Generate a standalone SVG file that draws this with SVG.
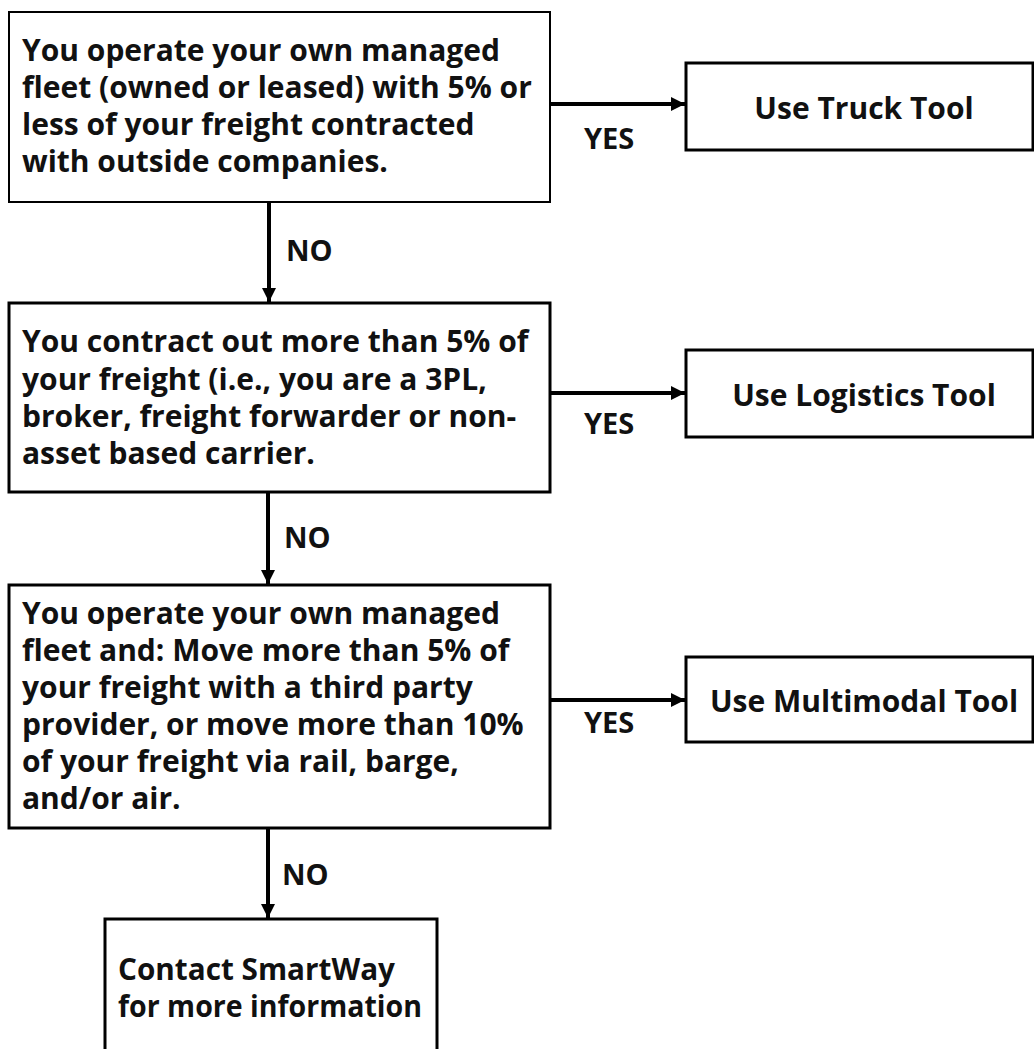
<svg xmlns="http://www.w3.org/2000/svg" width="1034" height="1049" viewBox="0 0 1034 1049">
  <style>
    .box { fill: #ffffff; stroke: #000000; stroke-width: 3; }
    .thin { stroke-width: 2; }
    .t { font-family: "Open Sans", "Liberation Sans", sans-serif; font-weight: 700; font-size: 30px; fill: #111111; }
    .c { text-anchor: middle; }
    .lbl { font-family: "Open Sans", "Liberation Sans", sans-serif; font-weight: 700; font-size: 29px; fill: #111111; }
    .conn { stroke: #000000; stroke-width: 4; fill: none; }
  </style>
  <defs>
    <marker id="arrow" viewBox="0 0 10 10" refX="10" refY="5" markerWidth="3.6" markerHeight="3.6" orient="auto" markerUnits="strokeWidth">
      <path d="M0,0 L10,5 L0,10 z" fill="#000000"/>
    </marker>
  </defs>
  <rect width="1034" height="1049" fill="#ffffff"/>

  <g id="connectors">
    <line class="conn" x1="551" y1="104" x2="685" y2="104" marker-end="url(#arrow)"/>
    <line class="conn" x1="269" y1="202" x2="269" y2="302" marker-end="url(#arrow)"/>
    <line class="conn" x1="551" y1="393" x2="685" y2="393" marker-end="url(#arrow)"/>
    <line class="conn" x1="268" y1="493" x2="268" y2="584" marker-end="url(#arrow)"/>
    <line class="conn" x1="551" y1="700" x2="685" y2="700" marker-end="url(#arrow)"/>
    <line class="conn" x1="268" y1="829" x2="268" y2="918" marker-end="url(#arrow)"/>
    <text class="lbl" x="584" y="149">YES</text>
    <text class="lbl" x="286" y="261">NO</text>
    <text class="lbl" x="584" y="434">YES</text>
    <text class="lbl" x="284" y="548">NO</text>
    <text class="lbl" x="584" y="733">YES</text>
    <text class="lbl" x="282" y="885">NO</text>
  </g>

  <g id="q1">
    <rect class="box thin" x="9" y="12" width="541" height="190"/>
    <text class="t" x="22" y="61">You operate your own managed</text>
    <text class="t" x="22" y="98">fleet (owned or leased) with 5% or</text>
    <text class="t" x="22" y="135">less of your freight contracted</text>
    <text class="t" x="22" y="172">with outside companies.</text>
  </g>

  <g id="truck">
    <rect class="box" x="686" y="63" width="347" height="87"/>
    <text class="t c" x="864" y="119">Use Truck Tool</text>
  </g>

  <g id="q2">
    <rect class="box" x="9" y="303" width="541" height="189"/>
    <text class="t" x="22" y="352">You contract out more than 5% of</text>
    <text class="t" x="22" y="390">your freight (i.e., you are a 3PL,</text>
    <text class="t" x="22" y="427">broker, freight forwarder or non-</text>
    <text class="t" x="22" y="464">asset based carrier.</text>
  </g>

  <g id="logistics">
    <rect class="box" x="686" y="350" width="347" height="87"/>
    <text class="t c" x="864" y="406">Use Logistics Tool</text>
  </g>

  <g id="q3">
    <rect class="box" x="9" y="585" width="541" height="243"/>
    <text class="t" x="22" y="624">You operate your own managed</text>
    <text class="t" x="22" y="661">fleet and: Move more than 5% of</text>
    <text class="t" x="22" y="698">your freight with a third party</text>
    <text class="t" x="22" y="735">provider, or move more than 10%</text>
    <text class="t" x="22" y="772">of your freight via rail, barge,</text>
    <text class="t" x="22" y="809">and/or air.</text>
  </g>

  <g id="multimodal">
    <rect class="box" x="686" y="657" width="347" height="85"/>
    <text class="t c" x="864" y="712">Use Multimodal Tool</text>
  </g>

  <g id="contact">
    <rect class="box" x="105" y="919" width="332" height="140"/>
    <text class="t" x="118" y="980" textLength="277" lengthAdjust="spacingAndGlyphs">Contact SmartWay</text>
    <text class="t" x="118" y="1017" textLength="304" lengthAdjust="spacingAndGlyphs">for more information</text>
  </g>
</svg>
